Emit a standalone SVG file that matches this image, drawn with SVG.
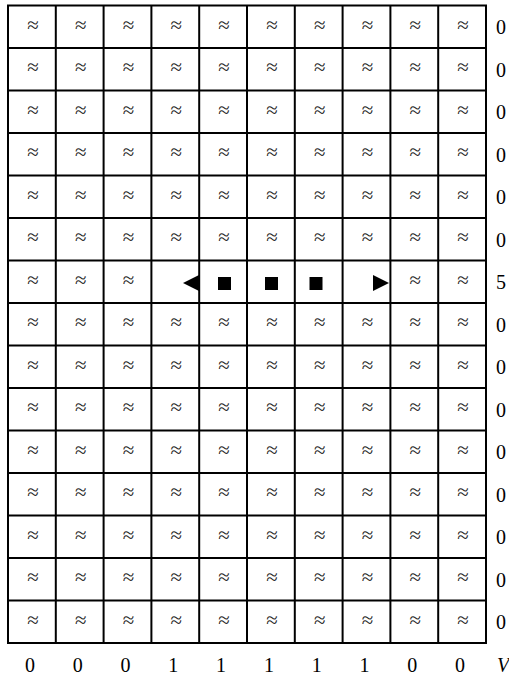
<svg xmlns="http://www.w3.org/2000/svg" width="509" height="675" viewBox="0 0 509 675">
<style>
.g{stroke:#000;stroke-width:2;fill:none}
.w{font-family:"Liberation Serif","Times New Roman",serif;font-size:21px;text-anchor:middle;fill:#222}
.n{font-family:"Liberation Serif","Times New Roman",serif;font-size:20px;fill:#000}
.b{text-anchor:middle}
.s{fill:#000}
</style>
<rect width="509" height="675" fill="#fff"/>
<g id="grid" class="g">
<rect x="8" y="5.5" width="478" height="637.5"/>
<path d="M55.8 5.5V643M103.6 5.5V643M151.4 5.5V643M199.2 5.5V643M247 5.5V643M294.8 5.5V643M342.6 5.5V643M390.4 5.5V643M438.2 5.5V643"/>
<path d="M8 48H486M8 90.5H486M8 133H486M8 175.5H486M8 218H486M8 260.5H486M8 303H486M8 345.5H486M8 388H486M8 430.5H486M8 473H486M8 515.5H486M8 558H486M8 600.5H486"/>
</g>
<g id="water" class="w" transform="translate(0,1.5)">
<text x="32.9" y="30.25">≈</text><text x="80.7" y="30.25">≈</text><text x="128.5" y="30.25">≈</text><text x="176.3" y="30.25">≈</text><text x="224.1" y="30.25">≈</text><text x="271.9" y="30.25">≈</text><text x="319.7" y="30.25">≈</text><text x="367.5" y="30.25">≈</text><text x="415.3" y="30.25">≈</text><text x="463.1" y="30.25">≈</text>
<text x="32.9" y="72.75">≈</text><text x="80.7" y="72.75">≈</text><text x="128.5" y="72.75">≈</text><text x="176.3" y="72.75">≈</text><text x="224.1" y="72.75">≈</text><text x="271.9" y="72.75">≈</text><text x="319.7" y="72.75">≈</text><text x="367.5" y="72.75">≈</text><text x="415.3" y="72.75">≈</text><text x="463.1" y="72.75">≈</text>
<text x="32.9" y="115.25">≈</text><text x="80.7" y="115.25">≈</text><text x="128.5" y="115.25">≈</text><text x="176.3" y="115.25">≈</text><text x="224.1" y="115.25">≈</text><text x="271.9" y="115.25">≈</text><text x="319.7" y="115.25">≈</text><text x="367.5" y="115.25">≈</text><text x="415.3" y="115.25">≈</text><text x="463.1" y="115.25">≈</text>
<text x="32.9" y="157.75">≈</text><text x="80.7" y="157.75">≈</text><text x="128.5" y="157.75">≈</text><text x="176.3" y="157.75">≈</text><text x="224.1" y="157.75">≈</text><text x="271.9" y="157.75">≈</text><text x="319.7" y="157.75">≈</text><text x="367.5" y="157.75">≈</text><text x="415.3" y="157.75">≈</text><text x="463.1" y="157.75">≈</text>
<text x="32.9" y="200.25">≈</text><text x="80.7" y="200.25">≈</text><text x="128.5" y="200.25">≈</text><text x="176.3" y="200.25">≈</text><text x="224.1" y="200.25">≈</text><text x="271.9" y="200.25">≈</text><text x="319.7" y="200.25">≈</text><text x="367.5" y="200.25">≈</text><text x="415.3" y="200.25">≈</text><text x="463.1" y="200.25">≈</text>
<text x="32.9" y="242.75">≈</text><text x="80.7" y="242.75">≈</text><text x="128.5" y="242.75">≈</text><text x="176.3" y="242.75">≈</text><text x="224.1" y="242.75">≈</text><text x="271.9" y="242.75">≈</text><text x="319.7" y="242.75">≈</text><text x="367.5" y="242.75">≈</text><text x="415.3" y="242.75">≈</text><text x="463.1" y="242.75">≈</text>
<text x="32.9" y="285.25">≈</text><text x="80.7" y="285.25">≈</text><text x="128.5" y="285.25">≈</text><text x="415.3" y="285.25">≈</text><text x="463.1" y="285.25">≈</text>
<text x="32.9" y="327.75">≈</text><text x="80.7" y="327.75">≈</text><text x="128.5" y="327.75">≈</text><text x="176.3" y="327.75">≈</text><text x="224.1" y="327.75">≈</text><text x="271.9" y="327.75">≈</text><text x="319.7" y="327.75">≈</text><text x="367.5" y="327.75">≈</text><text x="415.3" y="327.75">≈</text><text x="463.1" y="327.75">≈</text>
<text x="32.9" y="370.25">≈</text><text x="80.7" y="370.25">≈</text><text x="128.5" y="370.25">≈</text><text x="176.3" y="370.25">≈</text><text x="224.1" y="370.25">≈</text><text x="271.9" y="370.25">≈</text><text x="319.7" y="370.25">≈</text><text x="367.5" y="370.25">≈</text><text x="415.3" y="370.25">≈</text><text x="463.1" y="370.25">≈</text>
<text x="32.9" y="412.75">≈</text><text x="80.7" y="412.75">≈</text><text x="128.5" y="412.75">≈</text><text x="176.3" y="412.75">≈</text><text x="224.1" y="412.75">≈</text><text x="271.9" y="412.75">≈</text><text x="319.7" y="412.75">≈</text><text x="367.5" y="412.75">≈</text><text x="415.3" y="412.75">≈</text><text x="463.1" y="412.75">≈</text>
<text x="32.9" y="455.25">≈</text><text x="80.7" y="455.25">≈</text><text x="128.5" y="455.25">≈</text><text x="176.3" y="455.25">≈</text><text x="224.1" y="455.25">≈</text><text x="271.9" y="455.25">≈</text><text x="319.7" y="455.25">≈</text><text x="367.5" y="455.25">≈</text><text x="415.3" y="455.25">≈</text><text x="463.1" y="455.25">≈</text>
<text x="32.9" y="497.75">≈</text><text x="80.7" y="497.75">≈</text><text x="128.5" y="497.75">≈</text><text x="176.3" y="497.75">≈</text><text x="224.1" y="497.75">≈</text><text x="271.9" y="497.75">≈</text><text x="319.7" y="497.75">≈</text><text x="367.5" y="497.75">≈</text><text x="415.3" y="497.75">≈</text><text x="463.1" y="497.75">≈</text>
<text x="32.9" y="540.25">≈</text><text x="80.7" y="540.25">≈</text><text x="128.5" y="540.25">≈</text><text x="176.3" y="540.25">≈</text><text x="224.1" y="540.25">≈</text><text x="271.9" y="540.25">≈</text><text x="319.7" y="540.25">≈</text><text x="367.5" y="540.25">≈</text><text x="415.3" y="540.25">≈</text><text x="463.1" y="540.25">≈</text>
<text x="32.9" y="582.75">≈</text><text x="80.7" y="582.75">≈</text><text x="128.5" y="582.75">≈</text><text x="176.3" y="582.75">≈</text><text x="224.1" y="582.75">≈</text><text x="271.9" y="582.75">≈</text><text x="319.7" y="582.75">≈</text><text x="367.5" y="582.75">≈</text><text x="415.3" y="582.75">≈</text><text x="463.1" y="582.75">≈</text>
<text x="32.9" y="625.25">≈</text><text x="80.7" y="625.25">≈</text><text x="128.5" y="625.25">≈</text><text x="176.3" y="625.25">≈</text><text x="224.1" y="625.25">≈</text><text x="271.9" y="625.25">≈</text><text x="319.7" y="625.25">≈</text><text x="367.5" y="625.25">≈</text><text x="415.3" y="625.25">≈</text><text x="463.1" y="625.25">≈</text>
</g>
<g id="ship" class="s">
<polygon points="183,283 199,275 199,291"/>
<rect x="218" y="277" width="13" height="13"/>
<rect x="265" y="277" width="13" height="13"/>
<rect x="309.5" y="277" width="13" height="13"/>
<polygon points="373,275 373,291 389,283"/>
</g>
<g id="row-counts" class="n">
<text x="496" y="34.25">0</text><text x="496" y="76.75">0</text><text x="496" y="119.25">0</text><text x="496" y="161.75">0</text><text x="496" y="204.25">0</text><text x="496" y="246.75">0</text><text x="496" y="289.25">5</text><text x="496" y="331.75">0</text><text x="496" y="374.25">0</text><text x="496" y="416.75">0</text><text x="496" y="459.25">0</text><text x="496" y="501.75">0</text><text x="496" y="544.25">0</text><text x="496" y="586.75">0</text><text x="496" y="629.25">0</text>
</g>
<g id="col-counts" class="n b">
<text x="29.9" y="671.5">0</text><text x="77.7" y="671.5">0</text><text x="125.5" y="671.5">0</text><text x="173.3" y="671.5">1</text><text x="221.1" y="671.5">1</text><text x="268.9" y="671.5">1</text><text x="316.7" y="671.5">1</text><text x="364.5" y="671.5">1</text><text x="412.3" y="671.5">0</text><text x="460.1" y="671.5">0</text>
<text x="497" y="671.5" style="text-anchor:start;font-style:italic">V</text>
</g>
</svg>
